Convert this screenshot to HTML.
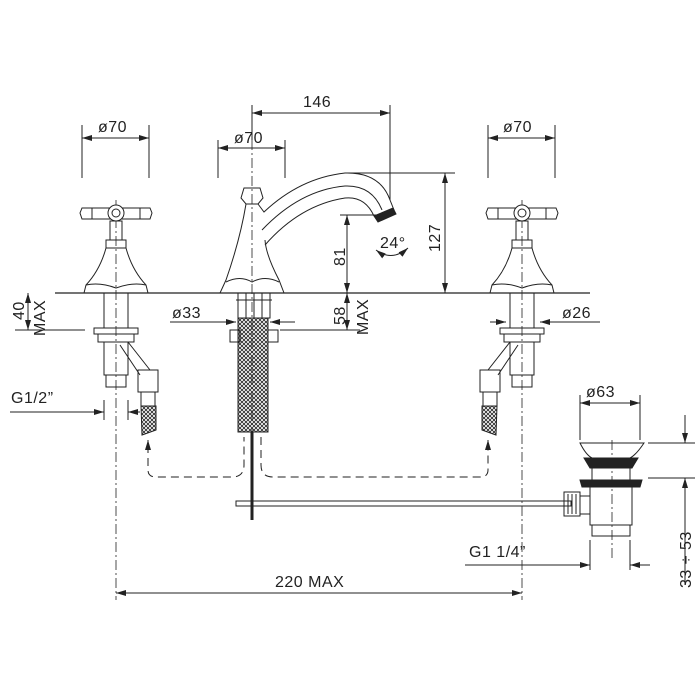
<!DOCTYPE html>
<html><head><style>body{margin:0;background:#fff}svg{display:block}text{font-family:"Liberation Sans",sans-serif;font-size:16px;fill:#222;letter-spacing:0.5px}</style></head>
<body>
<svg width="700" height="700" viewBox="0 0 700 700" xmlns="http://www.w3.org/2000/svg">
<defs>
<pattern id="m" width="4" height="4" patternUnits="userSpaceOnUse"><path d="M0 0L4 4M4 0L0 4" stroke="#222" stroke-width="0.8"/></pattern>
<marker id="a" markerWidth="10" markerHeight="6" refX="10" refY="3" orient="auto-start-reverse" markerUnits="userSpaceOnUse"><path d="M0 0L10 3L0 6z" fill="#222"/></marker>
</defs>
<g stroke="#222" stroke-width="1" fill="none">
<line x1="55" y1="293" x2="590" y2="293" stroke-width="1.3"/>
<g stroke-dasharray="10 3 2 3" stroke-width="0.8">
<line x1="116" y1="200" x2="116" y2="600"/><line x1="522" y1="200" x2="522" y2="600"/><line x1="252" y1="140" x2="252" y2="520"/><line x1="612" y1="440" x2="612" y2="560"/>
</g>
<line x1="82" y1="125" x2="82" y2="178"/><line x1="149" y1="125" x2="149" y2="178"/>
<line x1="218" y1="140" x2="218" y2="178"/><line x1="285" y1="140" x2="285" y2="178"/>
<line x1="488" y1="125" x2="488" y2="178"/><line x1="555" y1="125" x2="555" y2="178"/>
<line x1="252" y1="105" x2="252" y2="140"/><line x1="390" y1="105" x2="390" y2="200"/>
<line x1="82" y1="138" x2="149" y2="138" marker-start="url(#a)" marker-end="url(#a)"/>
<line x1="218" y1="148" x2="285" y2="148" marker-start="url(#a)" marker-end="url(#a)"/>
<line x1="488" y1="138" x2="555" y2="138" marker-start="url(#a)" marker-end="url(#a)"/>
<line x1="252" y1="113" x2="390" y2="113" marker-start="url(#a)" marker-end="url(#a)"/>
<line x1="345" y1="173" x2="455" y2="173"/>
<line x1="445" y1="173" x2="445" y2="293" marker-start="url(#a)" marker-end="url(#a)"/>
<line x1="340" y1="215" x2="380" y2="215"/>
<line x1="347" y1="215" x2="347" y2="293" marker-start="url(#a)" marker-end="url(#a)"/>
<line x1="347" y1="293" x2="347" y2="330" marker-start="url(#a)" marker-end="url(#a)"/>
<line x1="280" y1="330" x2="360" y2="330"/>
<line x1="15" y1="330" x2="85" y2="330"/>
<line x1="28" y1="293" x2="28" y2="330" marker-start="url(#a)" marker-end="url(#a)"/>
<line x1="170" y1="322" x2="236" y2="322" marker-end="url(#a)"/><line x1="295" y1="322" x2="270" y2="322" marker-end="url(#a)"/>
<line x1="490" y1="322" x2="506" y2="322" marker-end="url(#a)"/><line x1="600" y1="322" x2="540" y2="322" marker-end="url(#a)"/>
<line x1="10" y1="412" x2="104" y2="412" marker-end="url(#a)"/><line x1="140" y1="412" x2="128" y2="412" marker-end="url(#a)"/>
<line x1="104" y1="400" x2="104" y2="420"/><line x1="128" y1="400" x2="128" y2="420"/>
<line x1="116" y1="593" x2="522" y2="593" marker-start="url(#a)" marker-end="url(#a)"/>
<line x1="580" y1="395" x2="580" y2="440"/><line x1="640" y1="395" x2="640" y2="440"/>
<line x1="580" y1="403" x2="640" y2="403" marker-start="url(#a)" marker-end="url(#a)"/>
<line x1="648" y1="443" x2="695" y2="443"/><line x1="648" y1="478" x2="695" y2="478"/>
<line x1="685" y1="415" x2="685" y2="443" marker-end="url(#a)"/><line x1="685" y1="585" x2="685" y2="478" marker-end="url(#a)"/>
<line x1="465" y1="565" x2="590" y2="565" marker-end="url(#a)"/><line x1="650" y1="565" x2="630" y2="565" marker-end="url(#a)"/>
<line x1="590" y1="540" x2="590" y2="570"/><line x1="630" y1="540" x2="630" y2="570"/>
<g stroke-dasharray="8 5">
<path d="M148 445V470Q148 477 156 477H232Q244 477 244 465V437"/>
<path d="M261 437V465Q261 477 273 477H480Q488 477 488 470V445"/>
</g>
<line x1="148" y1="448" x2="148" y2="440" marker-end="url(#a)"/><line x1="488" y1="448" x2="488" y2="440" marker-end="url(#a)"/>
<g id="h">
<path d="M82 208H150L152 213L150 219H82L80 213Z"/><line x1="92" y1="208" x2="92" y2="219"/><line x1="140" y1="208" x2="140" y2="219"/>
<circle cx="116" cy="213" r="8" fill="#fff"/><circle cx="116" cy="213" r="4"/>
<path d="M110 221H122V240H110Z"/><path d="M106 240H126V248H106Z"/>
<path d="M106 248Q100 270 86 285L84 293H148L146 285Q132 270 126 248"/>
<path d="M86 285Q100 282 116 288Q132 282 146 285"/>
<path d="M104 293V328H128V293"/><rect x="94" y="328" width="44" height="6"/><rect x="98" y="334" width="36" height="8"/>
<path d="M104 342V375H128V342"/><rect x="106" y="375" width="20" height="12"/>
<path d="M120 345L140 375M128 342L150 370"/><rect x="138" y="370" width="20" height="22"/>
<rect x="141" y="392" width="14" height="14"/><path d="M141 406H156V430L142 435Z" fill="url(#m)"/>
</g>
<use href="#h" transform="translate(638,0) scale(-1,1)"/>
<!-- central spout -->
<path d="M244 188H260L263 198L258 204H246L241 198Z"/>
<path d="M246 204Q240 240 226 280L220 293H284L279 280Q266 255 265 240"/>
<path d="M258 204L264 212Q300 178 345 173Q380 172 390 200L394 210"/>
<path d="M262 230Q300 190 345 186Q372 185 382 210"/>
<path d="M265 245Q300 205 345 198Q365 196 374 216"/>
<path d="M226 282Q240 275 252 282Q265 275 279 282"/>
<path d="M374 216L393 208L396 214L378 222Z" fill="#222"/>
<path d="M376 250Q392 262 408 248" marker-start="url(#a)" marker-end="url(#a)"/>
<rect x="238" y="293" width="32" height="25"/><line x1="246" y1="293" x2="246" y2="318"/><line x1="254" y1="293" x2="254" y2="318"/><line x1="262" y1="293" x2="262" y2="318"/>
<line x1="236" y1="300" x2="272" y2="300"/>
<rect x="230" y="330" width="10" height="12"/><rect x="268" y="330" width="10" height="12"/>
<path d="M238 318H268V432H238Z" fill="url(#m)"/>
<line x1="252" y1="432" x2="252" y2="520" stroke-width="3"/>
<rect x="236" y="501" width="335" height="5"/>
<path d="M580 443H644Q636 455 630 458H592Q586 455 580 443Z"/>
<path d="M584 458H638L632 468H590Z" fill="#222"/>
<rect x="592" y="468" width="38" height="12"/>
<path d="M580 480H642L640 487H582Z" fill="#222"/>
<rect x="590" y="487" width="42" height="38"/><rect x="592" y="525" width="38" height="11"/>
<rect x="564" y="492" width="16" height="24"/><path d="M568 494V514M572 494V514M576 494V514"/>
<rect x="580" y="496" width="10" height="18"/>
</g>
<text x="98" y="132">ø70</text>
<text x="234" y="143">ø70</text>
<text x="503" y="132">ø70</text>
<text x="303" y="107">146</text>
<text x="172" y="318">ø33</text>
<text x="562" y="318">ø26</text>
<text x="11" y="403">G1/2”</text>
<text x="586" y="397">ø63</text>
<text x="469" y="557">G1  1/4”</text>
<text x="275" y="587">220  MAX</text>
<text x="380" y="248">24°</text>
<text transform="translate(345,266) rotate(-90)">81</text>
<text transform="translate(440,252) rotate(-90)">127</text>
<text transform="translate(345,325) rotate(-90)">58</text>
<text transform="translate(368,335) rotate(-90)">MAX</text>
<text transform="translate(24,320) rotate(-90)">40</text>
<text transform="translate(45,336) rotate(-90)">MAX</text>
<text transform="translate(691,588) rotate(-90)">33 ÷ 53</text>
</svg>
</body></html>
